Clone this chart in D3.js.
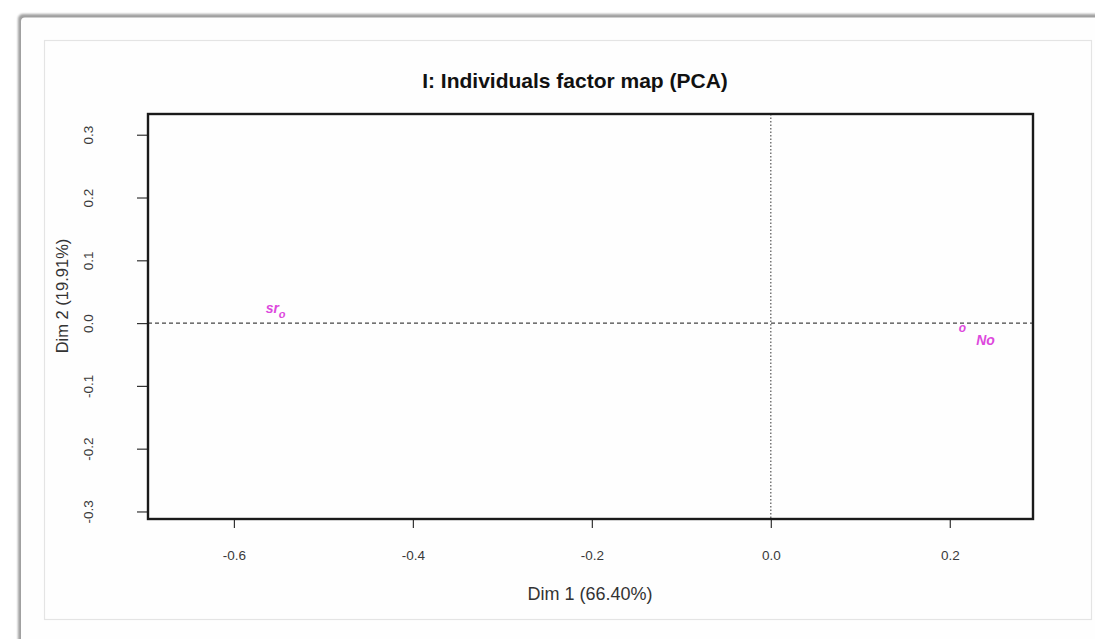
<!DOCTYPE html>
<html>
<head>
<meta charset="utf-8">
<style>
    body { margin: 0; background: #fff; }
    .axis path { display: none; }
    .axis line { stroke: #333; stroke-width: 1.2; }
    .axis text { fill: #3a3a3a; font-family: "Liberation Sans", Arial, sans-serif; font-size: 13.5px; }
</style>
</head>
<body>
<div id="containerChart"></div>
<script src="https://cdn.jsdelivr.net/npm/d3@7"></script>
<script>
    // data
    var xTicks = [-0.6, -0.4, -0.2, 0.0, 0.2];
    var yTicks = [-0.3, -0.2, -0.1, 0.0, 0.1, 0.2, 0.3];
    var labels = ["sr", "o", "o", "No"];
    var dim1 = [-0.557, -0.546, 0.214, 0.240];
    var dim2 = [0.024, 0.015, -0.008, -0.027];
    var xTitle = "Dim 1 (66.40%)";
    var yTitle = "Dim 2 (19.91%)";
    var chartTitle = "I: Individuals factor map (PCA)";

    var svgWidth = 1095, svgHeight = 639;
    var box = { left: 148, top: 114, right: 1033, bottom: 519 };

    var svg = d3.select("#containerChart")
        .append("svg")
        .attr("width", svgWidth)
        .attr("height", svgHeight);

    // card frame with soft grey edge
    var defs = svg.append("defs");
    defs.append("filter").attr("id", "blur")
        .append("feGaussianBlur").attr("stdDeviation", 1.3);
    svg.append("rect")
        .attr("x", 18).attr("y", 14).attr("width", 1110).attr("height", 660)
        .attr("rx", 5).attr("fill", "#a0a0a0").attr("filter", "url(#blur)");
    svg.append("rect")
        .attr("x", 21).attr("y", 17.5).attr("width", 1110).attr("height", 660)
        .attr("rx", 4).attr("fill", "#fefefe");
    svg.append("rect")
        .attr("x", 44.5).attr("y", 40.5).attr("width", 1047).attr("height", 579)
        .attr("fill", "#fefefe").attr("stroke", "#e4e4e4").attr("stroke-width", 1.2);

    //Set up scales
    var xScale = d3.scaleLinear()
        .domain([-0.696, 0.293])
        .range([box.left, box.right]);

    var yScale = d3.scaleLinear()
        .domain([-0.312, 0.333])
        .range([box.bottom, box.top]);

    var fmt = function (d) { return d3.format(".1f")(d).replace("\u2212", "-"); };

    // reference lines
    svg.append("line")
        .attr("x1", box.left).attr("x2", box.right)
        .attr("y1", yScale(0)).attr("y2", yScale(0))
        .attr("stroke", "#444").attr("stroke-width", 1.2)
        .attr("stroke-dasharray", "4,3");
    svg.append("line")
        .attr("x1", xScale(0)).attr("x2", xScale(0))
        .attr("y1", box.top).attr("y2", box.bottom)
        .attr("stroke", "#555").attr("stroke-width", 1.2)
        .attr("stroke-dasharray", "1.5,2");

    // X axis
    var xAxis = d3.axisBottom(xScale)
        .tickValues(xTicks)
        .tickSize(9)
        .tickFormat(fmt);

    svg.append("g")
        .attr("class", "axis")
        .attr("transform", "translate(0," + box.bottom + ")")
        .call(xAxis)
        .selectAll("text")
        .attr("y", 31);

    // Y axis (labels rotated like R)
    var yAxis = d3.axisLeft(yScale)
        .tickValues(yTicks)
        .tickSize(11)
        .tickFormat(fmt);

    svg.append("g")
        .attr("class", "axis")
        .attr("transform", "translate(" + box.left + ",0)")
        .call(yAxis)
        .selectAll("text")
        .attr("x", 0)
        .attr("dy", "0.35em")
        .style("text-anchor", "middle")
        .attr("transform", "translate(-60,0) rotate(-90)");

    // plot box
    svg.append("rect")
        .attr("x", box.left).attr("y", box.top)
        .attr("width", box.right - box.left).attr("height", box.bottom - box.top)
        .attr("fill", "none").attr("stroke", "#1a1a1a").attr("stroke-width", 2.4);

    // individuals
    var sizes = [14, 11, 12, 14];
    svg.selectAll("text.ind")
        .data(labels)
        .enter().append("text")
        .attr("class", "ind")
        .attr("x", function (d, i) { return xScale(dim1[i]); })
        .attr("y", function (d, i) { return yScale(dim2[i]); })
        .attr("dy", "0.35em")
        .style("text-anchor", "middle")
        .style("font-family", "'Liberation Sans', Arial, sans-serif")
        .style("font-style", "italic")
        .style("font-weight", "bold")
        .style("font-size", function (d, i) { return sizes[i] + "px"; })
        .style("fill", "#dd48dd")
        .text(function (d) { return d; });

    // titles
    svg.append("text")
        .attr("x", 575).attr("y", 88)
        .style("text-anchor", "middle")
        .style("font-family", "'Liberation Sans', Arial, sans-serif")
        .style("font-weight", "bold")
        .style("font-size", "21px")
        .style("fill", "#111")
        .text(chartTitle);

    svg.append("text")
        .attr("x", 590).attr("y", 600)
        .style("text-anchor", "middle")
        .style("font-family", "'Liberation Sans', Arial, sans-serif")
        .style("font-size", "18px")
        .style("fill", "#333")
        .text(xTitle);

    svg.append("text")
        .attr("transform", "translate(68,296) rotate(-90)")
        .style("text-anchor", "middle")
        .style("font-family", "'Liberation Sans', Arial, sans-serif")
        .style("font-size", "16.5px")
        .style("fill", "#333")
        .text(yTitle);
</script>
</body>
</html>
